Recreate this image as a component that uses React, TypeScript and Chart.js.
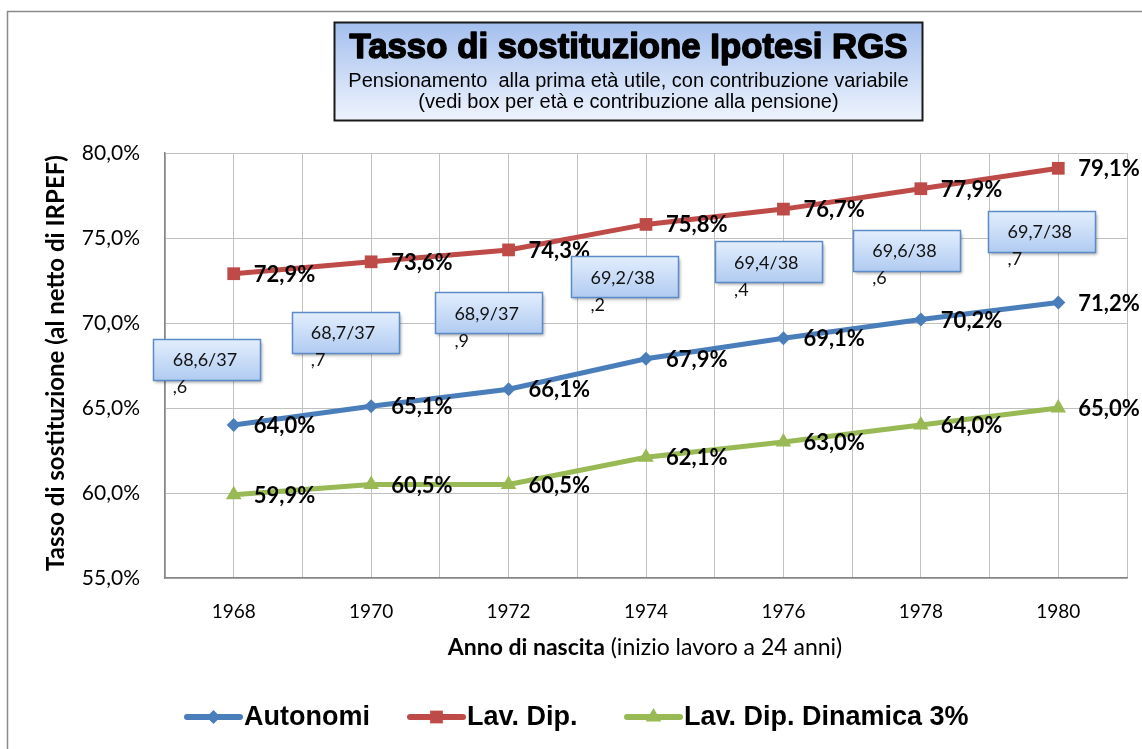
import React, { useEffect, useRef } from "react";
import { Chart, registerables } from "chart.js";

Chart.register(...registerables);

const years = [1968, 1970, 1972, 1974, 1976, 1978, 1980];
const autonomi = [64.0, 65.1, 66.1, 67.9, 69.1, 70.2, 71.2];
const lavDip = [72.9, 73.6, 74.3, 75.8, 76.7, 77.9, 79.1];
const lavDipDin = [59.9, 60.5, 60.5, 62.1, 63.0, 64.0, 65.0];
const seriesNames = ["Autonomi", "Lav. Dip.", "Lav. Dip. Dinamica 3%"];
const seriesColors = ["#4A7EBB", "#BE4B48", "#98B954"];

const boxYears = [1967.61, 1969.62, 1971.71, 1973.69, 1975.78, 1977.79, 1979.76];
const boxValues = [67.85, 69.44, 70.59, 72.71, 73.59, 74.29, 75.38];
const boxMain = ["68,6/37", "68,7/37", "68,9/37", "69,2/38", "69,4/38", "69,6/38", "69,7/38"];
const boxTail = [",6", ",7", ",9", ",2", ",4", ",6", ",7"];

const yTicks = [55, 60, 65, 70, 75, 80];

const titleText = "Tasso di sostituzione Ipotesi RGS";
const subtitle1 = "Pensionamento  alla prima età utile, con contribuzione variabile";
const subtitle2 = "(vedi box per età e contribuzione alla pensione)";
const yTitle = "Tasso di sostituzione (al netto di IRPEF)";
const xTitleBold = "Anno di nascita";
const xTitleRest = " (inizio lavoro a 24 anni)";

const fmt = (v: number) => v.toFixed(1).replace(".", ",") + "%";
const FONT = "Lato, 'Noto Sans', sans-serif";
const ARIAL = "'Liberation Sans', Arial, sans-serif";

function drawMarker(ctx: CanvasRenderingContext2D, style: string, x: number, y: number, r: number, color: string) {
  ctx.save();
  ctx.fillStyle = color;
  ctx.beginPath();
  if (style === "rectRot") {
    ctx.moveTo(x, y - r);
    ctx.lineTo(x + r, y);
    ctx.lineTo(x, y + r);
    ctx.lineTo(x - r, y);
  } else if (style === "rect") {
    const s = r * Math.SQRT1_2;
    ctx.rect(x - s, y - s, 2 * s, 2 * s);
  } else {
    ctx.moveTo(x, y - r);
    ctx.lineTo(x + r * 0.866, y + r * 0.5);
    ctx.lineTo(x - r * 0.866, y + r * 0.5);
  }
  ctx.closePath();
  ctx.fill();
  ctx.restore();
}

const pointStyles = ["rectRot", "rect", "triangle"];
const pointRadii = [7, 9, 9];
const legendStarts = [187, 410, 627];

const decorPlugin = {
  id: "decor",
  beforeDraw(chart: any) {
    const ctx = chart.ctx;
    ctx.save();
    ctx.fillStyle = "#ffffff";
    ctx.fillRect(0, 0, chart.width, chart.height);
    ctx.strokeStyle = "#8a8a8a";
    ctx.lineWidth = 1.5;
    ctx.strokeRect(7.5, 11.5, chart.width + 20, chart.height + 20);
    ctx.restore();
  },
  afterDatasetsDraw(chart: any) {
    const ctx = chart.ctx;
    const xs = chart.scales.x;
    const ys = chart.scales.y;
    ctx.save();
    // data labels
    ctx.fillStyle = "#000";
    ctx.font = `bold 22px ${FONT}`;
    ctx.textAlign = "left";
    ctx.textBaseline = "middle";
    chart.data.datasets.forEach((ds: any) => {
      ds.data.forEach((p: any) => {
        const px = xs.getPixelForValue(p.x);
        const py = ys.getPixelForValue(p.y);
        ctx.fillText(fmt(p.y), px + 20, py + 1);
      });
    });
    // annotation boxes
    const bw = 107;
    const bh = 41;
    boxYears.forEach((yr, i) => {
      const cx = xs.getPixelForValue(yr);
      const cy = ys.getPixelForValue(boxValues[i]);
      const x0 = Math.round(cx - bw / 2) + 0.5;
      const y0 = Math.round(cy - bh / 2) + 0.5;
      ctx.save();
      ctx.shadowColor = "rgba(0,0,0,0.35)";
      ctx.shadowBlur = 3;
      ctx.shadowOffsetX = 1.5;
      ctx.shadowOffsetY = 2;
      const g = ctx.createLinearGradient(0, y0, 0, y0 + bh);
      g.addColorStop(0, "#e3eefd");
      g.addColorStop(1, "#b0cbf1");
      ctx.fillStyle = g;
      ctx.fillRect(x0, y0, bw, bh);
      ctx.restore();
      ctx.strokeStyle = "#5b8bc9";
      ctx.lineWidth = 1.5;
      ctx.strokeRect(x0, y0, bw, bh);
      ctx.fillStyle = "#111";
      ctx.font = `18px ${FONT}`;
      ctx.textAlign = "left";
      ctx.textBaseline = "middle";
      const w = ctx.measureText(boxMain[i]).width;
      const tx = cx - w / 2 - 2;
      ctx.fillText(boxMain[i], tx, cy + 1);
      ctx.fillText(boxTail[i], tx, cy + 28);
    });
    ctx.restore();
  },
  afterDraw(chart: any) {
    const ctx = chart.ctx;
    ctx.save();
    // title box
    const tx0 = 334.5, ty0 = 22.5, tw = 588, th = 98;
    const g = ctx.createLinearGradient(0, ty0, 0, ty0 + th);
    g.addColorStop(0, "#a4bfee");
    g.addColorStop(1, "#eef4fd");
    ctx.fillStyle = g;
    ctx.fillRect(tx0, ty0, tw, th);
    ctx.strokeStyle = "#1a1a1a";
    ctx.lineWidth = 2;
    ctx.strokeRect(tx0, ty0, tw, th);
    const tcx = tx0 + tw / 2;
    ctx.fillStyle = "#000";
    ctx.textAlign = "center";
    ctx.textBaseline = "middle";
    ctx.font = `bold 35px ${ARIAL}`;
    ctx.strokeStyle = "#000";
    ctx.lineWidth = 1.5;
    ctx.lineJoin = "round";
    ctx.fillText(titleText, tcx, 48, 558);
    ctx.strokeText(titleText, tcx, 48, 558);
    ctx.font = `20px ${ARIAL}`;
    ctx.fillText(subtitle1, tcx, 81, 568);
    ctx.fillText(subtitle2, tcx, 102, 440);

    // y axis title
    ctx.save();
    ctx.translate(56, 363);
    ctx.rotate(-Math.PI / 2);
    ctx.font = `bold 24px ${FONT}`;
    ctx.fillText(yTitle, 0, 0, 425);
    ctx.restore();

    // x axis title (mixed weight)
    ctx.textAlign = "left";
    const xfs = 23;
    ctx.font = `bold ${xfs}px ${FONT}`;
    const wb = ctx.measureText(xTitleBold).width;
    ctx.font = `${xfs}px ${FONT}`;
    const wr = ctx.measureText(xTitleRest).width;
    const start = 645 - (wb + wr) / 2;
    ctx.font = `bold ${xfs}px ${FONT}`;
    ctx.fillText(xTitleBold, start, 648);
    ctx.font = `${xfs}px ${FONT}`;
    ctx.fillText(xTitleRest, start + wb, 648);

    // legend
    const ly = 717;
    ctx.font = `bold 27px ${ARIAL}`;
    const lineLen = 53;
    seriesNames.forEach((name, i) => {
      const lx = legendStarts[i];
      ctx.strokeStyle = seriesColors[i];
      ctx.lineWidth = 6;
      ctx.lineCap = "round";
      ctx.beginPath();
      ctx.moveTo(lx, ly);
      ctx.lineTo(lx + lineLen, ly);
      ctx.stroke();
      drawMarker(ctx, pointStyles[i], lx + lineLen / 2, ly, pointRadii[i], seriesColors[i]);
      ctx.fillStyle = "#000";
      ctx.textAlign = "left";
      ctx.fillText(name, lx + lineLen + 4, ly + 1);
    });
    ctx.restore();
  },
};

export default function App() {
  const ref = useRef<HTMLCanvasElement | null>(null);
  useEffect(() => {
    if (!ref.current) return;
    const seriesData = [autonomi, lavDip, lavDipDin];
    const chart = new Chart(ref.current, {
      type: "line",
      data: {
        datasets: seriesData.map((vals, i) => ({
          label: seriesNames[i],
          data: years.map((yr, j) => ({ x: yr, y: vals[j] })),
          borderColor: seriesColors[i],
          backgroundColor: seriesColors[i],
          borderWidth: 5,
          pointStyle: pointStyles[i] as any,
          pointRadius: pointRadii[i],
          pointBorderWidth: 0,
          pointBackgroundColor: seriesColors[i],
          tension: 0,
          fill: false,
        })),
      },
      options: {
        responsive: false,
        animation: false,
        layout: { padding: { top: 153, right: 15, bottom: 0, left: 0 } },
        plugins: { legend: { display: false }, tooltip: { enabled: false }, title: { display: false } },
        scales: {
          x: {
            type: "linear",
            min: 1967,
            max: 1981,
            afterFit: (s: any) => { s.height = 171; s.paddingLeft = 0; s.paddingRight = 0; },
            afterBuildTicks: (s: any) => {
              const t = [];
              for (let v = 1967; v <= 1981; v++) t.push({ value: v });
              s.ticks = t;
            },
            grid: { color: "#c0c0c0", lineWidth: 1, drawTicks: false },
            border: { color: "#868686", width: 1.5 },
            ticks: {
              autoSkip: false,
              maxRotation: 0,
              padding: 22,
              color: "#000",
              font: { family: FONT, size: 19 },
              callback: (v: any) => (Number(v) % 2 === 0 ? String(v) : ""),
            },
          },
          y: {
            min: 55,
            max: 80,
            afterFit: (s: any) => { s.width = 165; },
            afterBuildTicks: (s: any) => { s.ticks = yTicks.map((v) => ({ value: v })); },
            grid: { color: "#c0c0c0", lineWidth: 1, drawTicks: false },
            border: { color: "#868686", width: 1.5 },
            ticks: {
              padding: 25,
              color: "#000",
              font: { family: FONT, size: 21 },
              callback: (v: any) => fmt(Number(v)),
            },
          },
        },
      },
      plugins: [decorPlugin],
    });
    return () => chart.destroy();
  }, []);
  return (
    <div style={{ position: "fixed", left: 0, top: 0, width: 1142, height: 749 }}>
      <canvas ref={ref} width={1142} height={749} style={{ display: "block" }} />
    </div>
  );
}
